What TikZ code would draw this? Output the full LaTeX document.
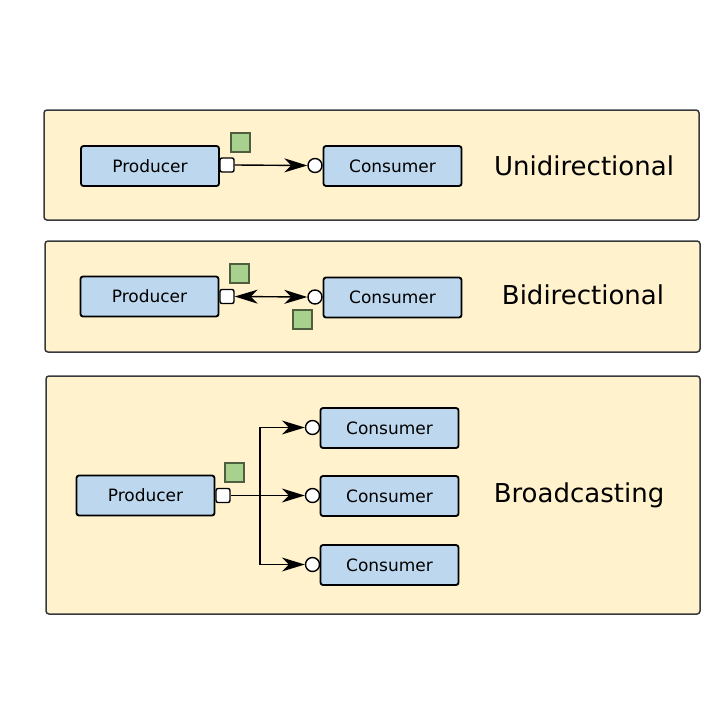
\documentclass[tikz,border=0pt]{standalone}
\usepackage{fontspec}
\setmainfont{DejaVu Sans}
\usetikzlibrary{arrows.meta}
\definecolor{panelfill}{HTML}{FFF2CC}
\definecolor{paneldraw}{HTML}{36393D}
\definecolor{boxfill}{HTML}{BDD7EE}
\definecolor{greenfill}{HTML}{A9D18E}
\definecolor{greendraw}{HTML}{4D5F3F}
\begin{document}
\begin{tikzpicture}[x=1pt,y=-1pt,
  panel/.style={draw=paneldraw,fill=panelfill,line width=1.5pt,rounded corners=3pt},
  compbox/.style={draw=black,fill=boxfill,line width=1.8pt,rounded corners=2.5pt,minimum width=138pt,minimum height=40pt,inner sep=0pt,font=\fontsize{17}{19}\selectfont},
  port/.style={draw=black,fill=white,line width=1.4pt,rounded corners=2pt,minimum size=14pt,inner sep=0pt},
  sock/.style={circle,draw=black,fill=white,line width=1.4pt,minimum size=14pt,inner sep=0pt},
  msg/.style={draw=greendraw,fill=greenfill,line width=1.2pt,minimum size=19pt,inner sep=0pt},
  title/.style={font=\fontsize{26}{30}\selectfont},
  conn/.style={line width=1.4pt,-{Stealth[length=23pt,width=14pt,inset=7pt]}},
  bconn/.style={line width=1.4pt,{Stealth[length=23pt,width=14pt,inset=7pt]}-{Stealth[length=23pt,width=14pt,inset=7pt]}}]
\useasboundingbox (0,0) rectangle (720,720);
\fill[white] (0,0) rectangle (720,720);
% panel 1
\node[panel,minimum width=655pt,minimum height=110pt,inner sep=0pt] (p1) at (371.5,165) {};
\node[compbox] (prod1) at (150,166) {Producer};
\node[port] (port1) at (227,165) {};
\node[msg] (g1) at (240.5,142.5) {};
\node[sock] (s1) at (315,165.5) {};
\node[compbox] (cons1) at (392.5,166) {Consumer};
\draw[conn] (port1.east) -- (s1.west);
\node[title] (t1) at (584,166) {Unidirectional};
% panel 2
\node[panel,minimum width=655pt,minimum height=111pt,inner sep=0pt] (p2) at (372.5,296.5) {};
\node[compbox] (prod2) at (149.5,296.5) {Producer};
\node[port] (port2) at (227,296.5) {};
\node[msg] (g2) at (239.5,273.5) {};
\node[msg] (g3) at (302.5,319.5) {};
\node[sock] (s2) at (315,297) {};
\node[compbox] (cons2) at (392.5,297.5) {Consumer};
\draw[bconn] (port2.east) -- (s2.west);
\node[title] (t2) at (583,295) {Bidirectional};
% panel 3
\node[panel,minimum width=654pt,minimum height=238pt,inner sep=0pt] (p3) at (373,495) {};
\node[compbox] (prod3) at (145.5,495.5) {Producer};
\node[port] (port3) at (223,495.5) {};
\node[msg] (g4) at (234.5,472.5) {};
\node[compbox] (c3a) at (389.5,428) {Consumer};
\node[compbox] (c3b) at (389.5,496) {Consumer};
\node[compbox] (c3c) at (389.5,565) {Consumer};
\node[sock] (s3a) at (312.5,427.5) {};
\node[sock] (s3b) at (312.5,495.5) {};
\node[sock] (s3c) at (312.5,564.5) {};
\coordinate (br) at (260,495.5);
\draw[conn] (port3.east) -- (s3b.west);
\draw[conn] (br) |- (s3a.west);
\draw[conn] (br) |- (s3c.west);
\node[title] (t3) at (579,495) {Broadcasting};
\end{tikzpicture}
\end{document}
